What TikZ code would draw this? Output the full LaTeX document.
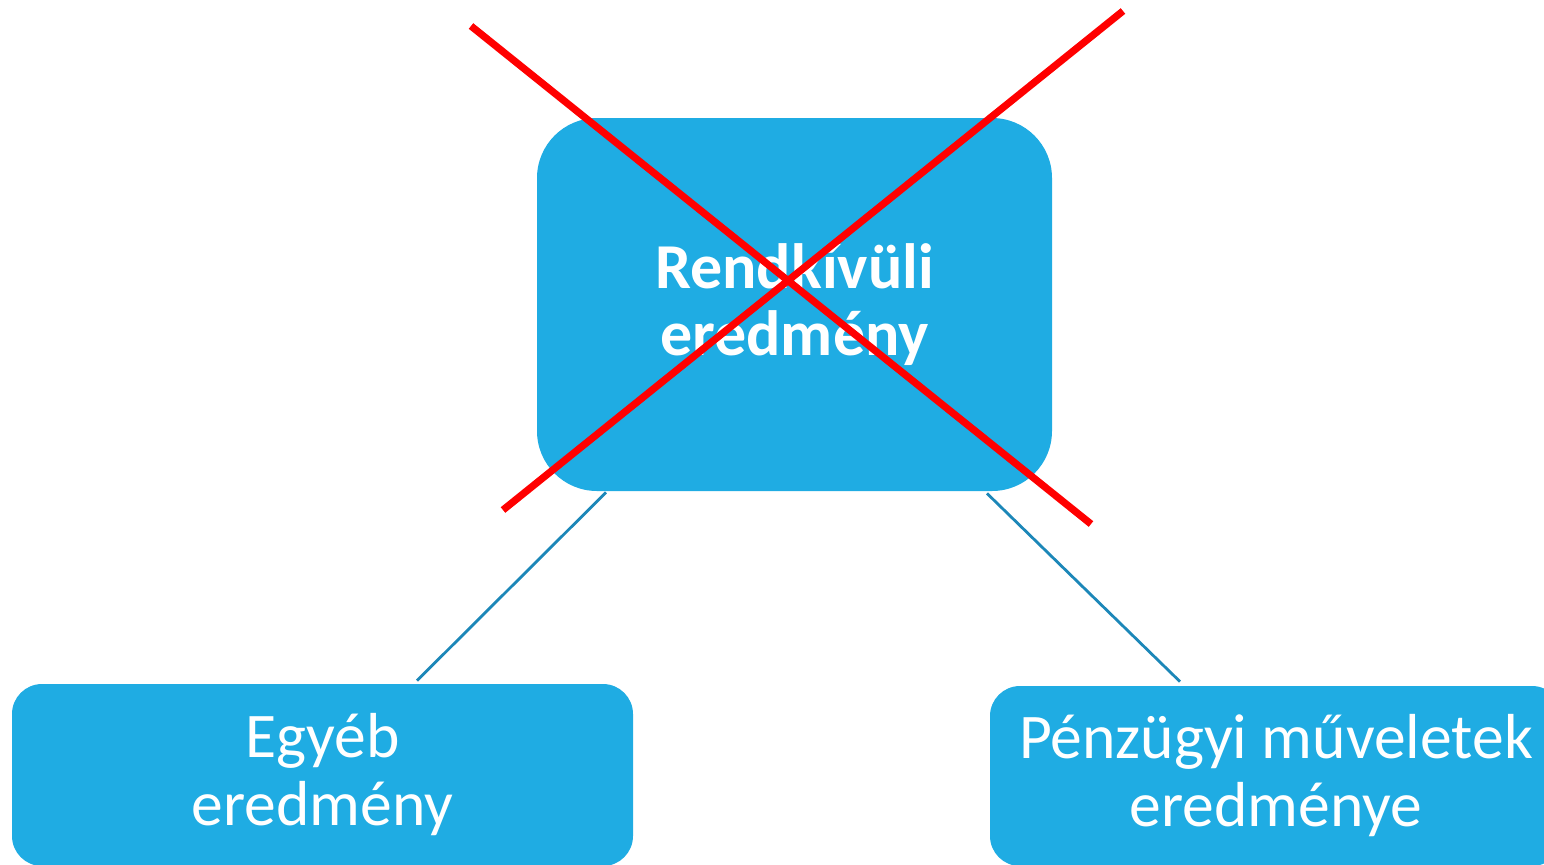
\documentclass[tikz,border=0pt]{standalone}
\usepackage{fontspec}
\setmainfont{Carlito}
\usetikzlibrary{calc}
\definecolor{boxblue}{HTML}{1FACE3}
\definecolor{linkblue}{HTML}{1C87B8}
\definecolor{crossred}{HTML}{FF0000}
\tikzset{
  box/.style={fill=boxblue, text=white, align=center, inner sep=0pt},
  conn/.style={draw=linkblue, line width=1.4pt},
  cross/.style={draw=crossred, line width=3.6pt, line cap=butt},
}
\begin{document}
\begin{tikzpicture}[x=0.5pt,y=-0.5pt]
\useasboundingbox (0,0) rectangle (1544,864);
\clip (0,0) rectangle (1544,864);
\node[box, minimum width=257.5pt, minimum height=186.5pt, rounded corners=30pt,
  font=\fontsize{32}{33.5}\selectfont\bfseries] (top) at (794.5,304.5) {Rendkívüli\\eredmény};
\node[box, minimum width=310.5pt, minimum height=91pt, rounded corners=15pt,
  font=\fontsize{31.8}{34}\selectfont] (left) at (322.5,775) {Egyéb\\eredmény};
\node[box, minimum width=286pt, minimum height=90pt, rounded corners=15pt,
  font=\fontsize{31.8}{34}\selectfont] (right) at (1276,776) {Pénzügyi műveletek\\eredménye};
\draw[conn] ($(top.south)+(-188.5,1)$) -- ($(left.north)+(94.5,-3)$);
\draw[conn] ($(top.south)+(192.5,2)$) -- ($(right.north)+(-96,-4)$);
\draw[cross] (471,26) -- (1091,524);
\draw[cross] (1123,11) -- (503,510);
\end{tikzpicture}
\end{document}
